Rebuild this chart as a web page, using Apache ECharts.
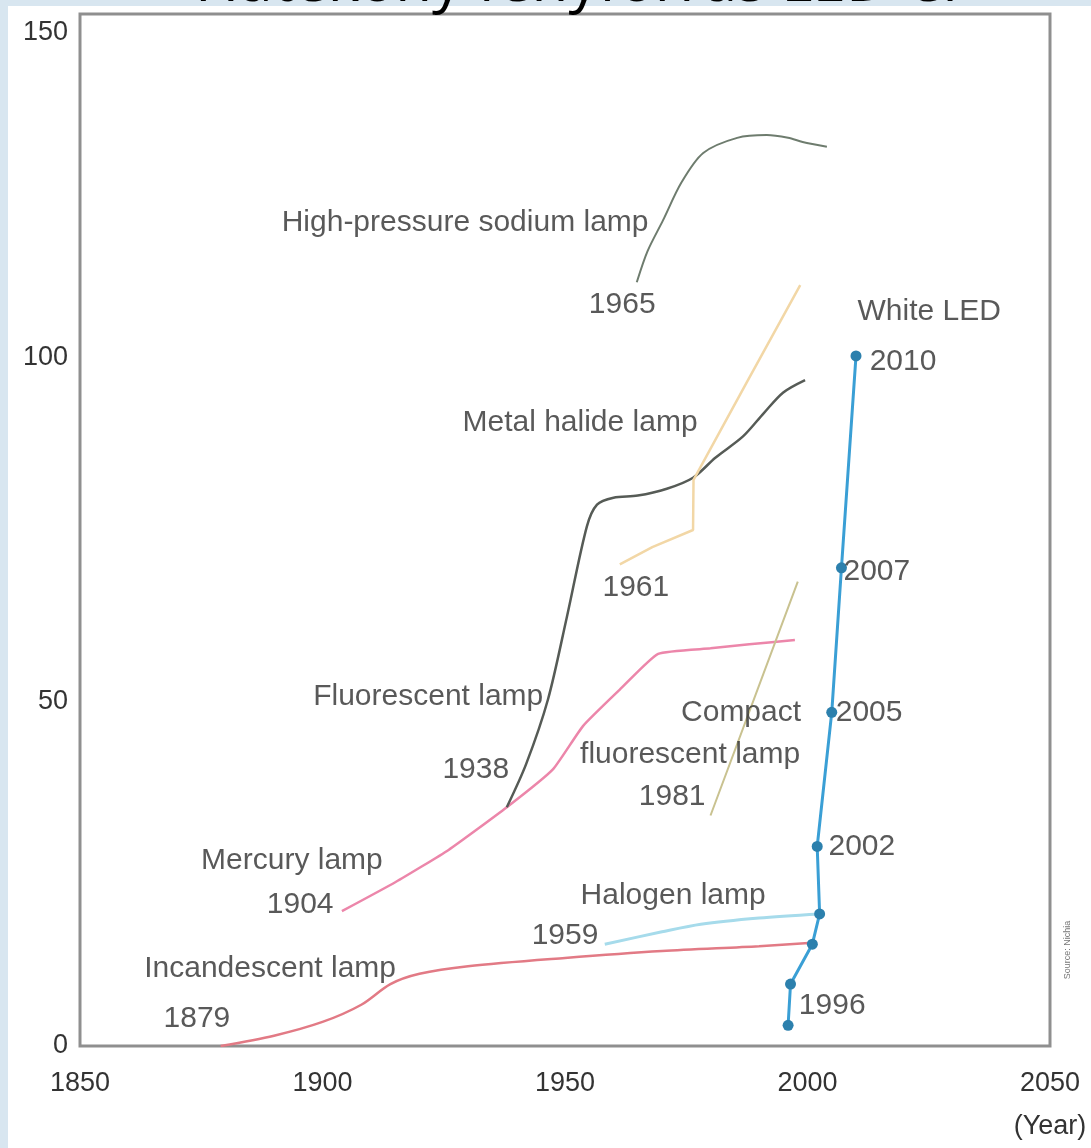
<!DOCTYPE html>
<html>
<head>
<meta charset="utf-8">
<title>Lamp efficacy</title>
<script src="https://cdn.jsdelivr.net/npm/echarts@6/dist/echarts.min.js"></script>
<style>
  html, body { margin: 0; padding: 0; background: #d8e6f0; }
  #chart { width: 1091px; height: 1148px; }
</style>
</head>
<body>
<div id="chart"></div>
<script>
// ---- data (year, luminous efficacy) ----
const xTicks = [1850, 1900, 1950, 2000, 2050];
const yTicks = [0, 50, 100, 150];

const incandescentYears  = [1879, 1890, 1900, 1908, 1914, 1920, 1930, 1950, 1970, 1990, 2001];
const incandescentValues = [0, 1.5, 3.5, 6.0, 9.0, 10.5, 11.6, 12.8, 13.8, 14.5, 15.0];

const mercuryYears  = [1904, 1915, 1926, 1938, 1947.5, 1953.7, 1961.3, 1969.2, 1980, 1988, 1997.4];
const mercuryValues = [19.6, 23.8, 28.5, 34.7, 40.2, 46.5, 51.8, 57.0, 57.8, 58.4, 59.0];

const fluorescentYears  = [1938, 1942, 1946.5, 1950.4, 1954.5, 1956.6, 1960, 1965, 1971, 1976.4, 1981, 1986.7, 1991, 1995, 1999.5];
const fluorescentValues = [34.7, 41.0, 50.4, 62.4, 75.5, 78.7, 79.7, 80.0, 81.0, 82.6, 85.5, 88.6, 92.0, 95.0, 96.8];

const metalHalideYears  = [1961.3, 1968, 1976.4, 1976.5, 1987.5, 1998.5];
const metalHalideValues = [70.0, 72.5, 75.0, 82.3, 96.5, 110.6];

const sodiumYears  = [1964.8, 1967, 1970.2, 1974, 1978.5, 1985.5, 1991.6, 1996, 1999, 2004];
const sodiumValues = [111.0, 115.5, 120.0, 125.5, 129.8, 132.0, 132.4, 132.0, 131.4, 130.7];

const compactYears  = [1980, 1989, 1998];
const compactValues = [33.5, 50.5, 67.5];

const halogenYears  = [1958.2, 1970, 1978, 1990, 2002.5];
const halogenValues = [14.8, 16.6, 17.7, 18.6, 19.2];

const ledYears  = [1996, 1996.5, 2001, 2002.5, 2002, 2005, 2007, 2010];
const ledValues = [3.0, 9.0, 14.8, 19.2, 29.0, 48.5, 69.5, 100.3];

const noteTexts = [
  'High-pressure sodium lamp', '1965', 'White LED', '2010', 'Metal halide lamp', '1961',
  '2007', 'Fluorescent lamp', 'Compact', '2005', 'fluorescent lamp', '1938', '1981',
  '2002', 'Mercury lamp', '1904', 'Halogen lamp', '1959', 'Incandescent lamp', '1879', '1996'
];

const titleText = 'Hatékony fényforrás LED-el';
const sourceText = 'Source: Nichia';

// ---- helpers ----
const zip = (xs, ys) => xs.map((x, i) => [x, ys[i]]);
const FONT = '"Liberation Sans", Arial, sans-serif';

// anchor points (axis units) for the annotation labels, same order as noteTexts
const notePlacement = [
  [1929.4, 119.6], [1961.8, 107.7], [2025.1, 106.7], [2019.7, 99.5], [1953.1, 90.6], [1964.6, 66.6],
  [2014.3, 69.0], [1921.8, 50.7], [1986.3, 48.5], [2012.7, 48.5], [1975.8, 42.4], [1931.6, 40.2], [1972.1, 36.3],
  [2011.2, 28.9], [1893.7, 27.0], [1895.4, 20.6], [1972.3, 21.9], [1950.0, 16.0], [1889.2, 11.2], [1874.1, 3.9], [2005.1, 5.8]
];

function lineSeries(name, xs, ys, color, width, smooth) {
  return {
    name, type: 'line', data: zip(xs, ys), showSymbol: false, symbol: 'none',
    smooth: smooth, lineStyle: { color, width }, silent: true, z: 3
  };
}

const chart = echarts.init(document.getElementById('chart'), null, { renderer: 'canvas' });

chart.setOption({
  backgroundColor: '#d8e6f0',
  animation: false,
  graphic: [
    { type: 'rect', z: -10, shape: { x: 8, y: 6, width: 1091, height: 1148 }, style: { fill: '#ffffff' } },
    {
      type: 'text', z: 10, x: 195, y: -16,
      style: { text: titleText, font: '60px "Open Sans", "Noto Sans", sans-serif', fill: '#000', verticalAlign: 'middle' }
    },
    {
      type: 'text', z: 10, x: 1068, y: 950, rotation: Math.PI / 2,
      style: { text: sourceText, font: '9px ' + FONT, fill: '#777', align: 'center', verticalAlign: 'middle' }
    }
  ],
  grid: {
    left: 80, right: 41, top: 14, bottom: 101,
    show: true, borderColor: '#8f8f8f', borderWidth: 3, backgroundColor: '#fff'
  },
  xAxis: {
    type: 'value', min: xTicks[0], max: xTicks[xTicks.length - 1], interval: 50,
    axisLine: { show: false }, axisTick: { show: false }, splitLine: { show: false },
    axisLabel: {
      margin: 16, fontSize: 27, fontFamily: FONT, color: '#333', lineHeight: 43,
      formatter: v => (v === 2050 ? '2050\n(Year)' : String(v))
    }
  },
  yAxis: {
    type: 'value', min: yTicks[0], max: yTicks[yTicks.length - 1], interval: 50,
    axisLine: { show: false }, axisTick: { show: false }, splitLine: { show: false },
    axisLabel: {
      margin: 12, fontSize: 27, fontFamily: FONT, color: '#333',
      formatter: v => (v === 150 ? '{low|150}' : String(v)),
      rich: { low: { fontSize: 27, fontFamily: FONT, color: '#333', padding: [38, 0, 0, 0] } }
    }
  },
  series: [
    lineSeries('Incandescent lamp', incandescentYears, incandescentValues, '#e27a85', 2.5, 0.3),
    lineSeries('Mercury / fluorescent', mercuryYears, mercuryValues, '#ec86aa', 2.5, 0.15),
    lineSeries('Fluorescent lamp', fluorescentYears, fluorescentValues, '#565b56', 2.5, 0.3),
    lineSeries('Metal halide lamp', metalHalideYears, metalHalideValues, '#f2d7a6', 2.5, false),
    lineSeries('High-pressure sodium lamp', sodiumYears, sodiumValues, '#6e7c6e', 2, 0.3),
    lineSeries('Compact fluorescent lamp', compactYears, compactValues, '#c9c290', 2, false),
    lineSeries('Halogen lamp', halogenYears, halogenValues, '#a6dbeb', 3, 0.3),
    {
      name: 'White LED', type: 'line', data: zip(ledYears, ledValues), z: 5, silent: true,
      symbol: 'circle', symbolSize: 11, showSymbol: true,
      itemStyle: { color: '#2c80ad' }, lineStyle: { color: '#3a9fd5', width: 3 }
    },
    {
      name: 'notes', type: 'scatter', symbolSize: 0, silent: true, z: 6,
      data: notePlacement.map((p, i) => ({ name: noteTexts[i], value: p })),
      label: {
        show: true, position: 'inside', formatter: '{b}',
        fontSize: 30, fontFamily: FONT, color: '#2f2f2f', align: 'center', verticalAlign: 'middle'
      }
    }
  ]
});
</script>
</body>
</html>
